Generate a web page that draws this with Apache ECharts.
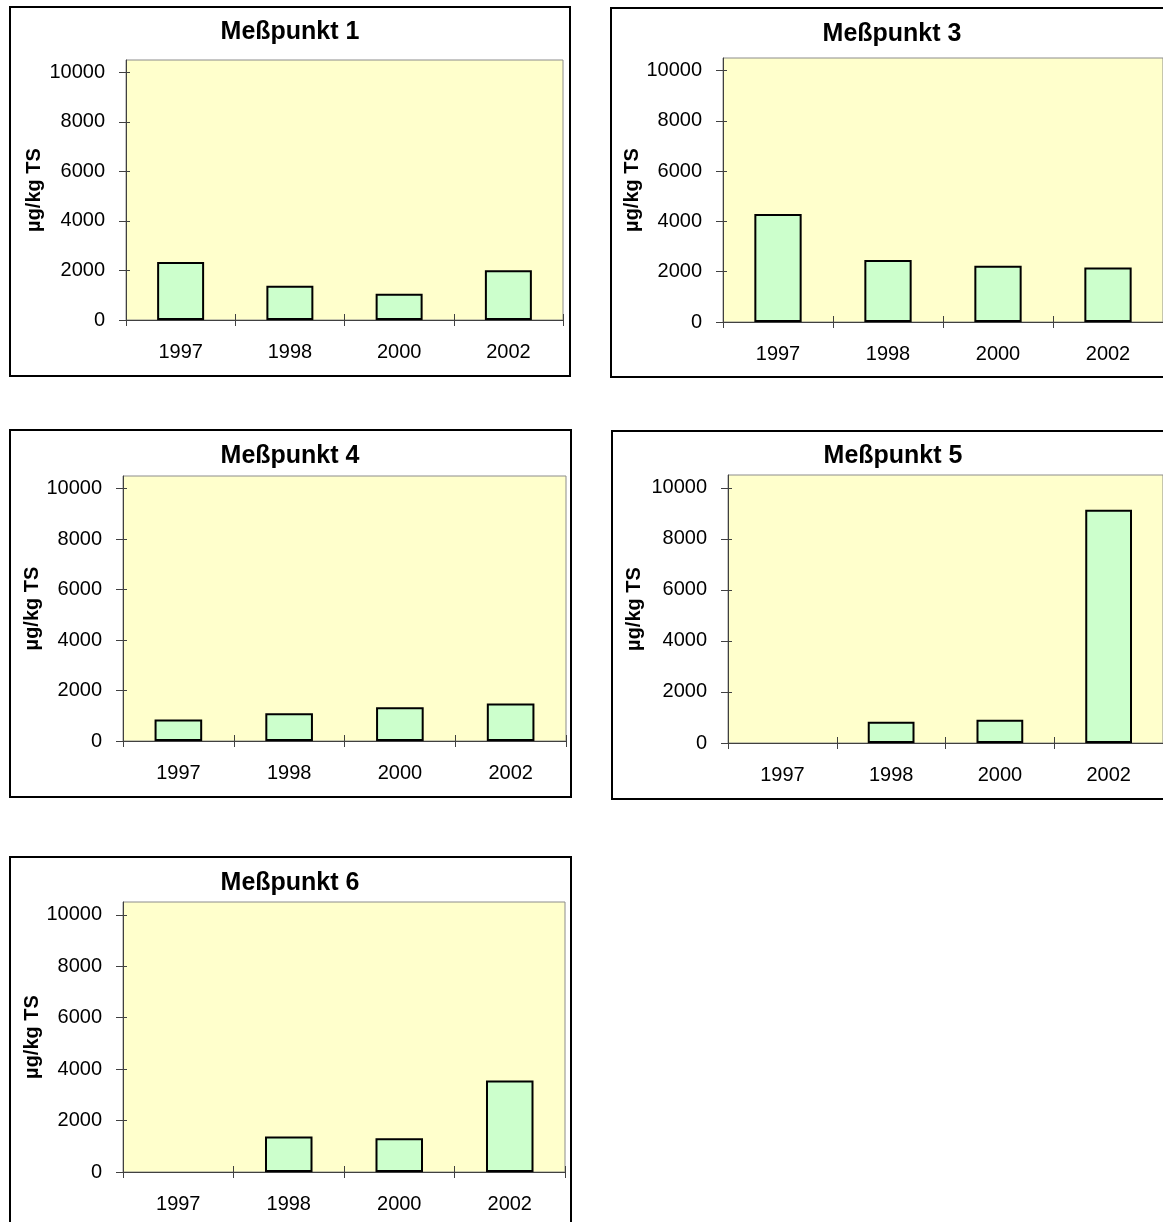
<!DOCTYPE html>
<html>
<head>
<meta charset="utf-8">
<title>Meßpunkte</title>
<script src="https://cdn.jsdelivr.net/npm/echarts@6/dist/echarts.min.js"></script>
<style>
  html, body { margin: 0; padding: 0; background: #ffffff; overflow: hidden; }
  #chart { width: 1163px; height: 1222px; }
</style>
</head>
<body>
<div id="chart"></div>
<script>
// Years sampled at every measuring point
const years = ['1997', '1998', '2000', '2002'];

// Concentrations in µg/kg TS (null = no sample that year)
const mp1 = [2340, 1380, 1060, 2010];
const mp3 = [4300, 2470, 2240, 2170];
const mp4 = [850, 1100, 1340, 1490];
const mp5 = [null, 830, 910, 9140];
const mp6 = [null, 1380, 1310, 3560];

// Value axis tick labels
const yTicks = [0, 2000, 4000, 6000, 8000, 10000];
const yMax = 10500;

const unitLabel = 'µg/kg TS';
const FONT = '"Liberation Sans", Arial, Helvetica, sans-serif';

// Panel layout: frame, plot area, title position, axis name gap
const panels = [
  { name: 'Meßpunkt 1', values: mp1, frame: [10, 7, 560, 369], grid: [126, 60, 437, 260], title: [290, 33], nameGap: 82 },
  { name: 'Meßpunkt 3', values: mp3, frame: [611, 8, 566, 369], grid: [723, 58, 444, 264], title: [892, 35], nameGap: 81 },
  { name: 'Meßpunkt 4', values: mp4, frame: [10, 430, 561, 367], grid: [123, 476, 443, 265], title: [290, 457], nameGap: 81 },
  { name: 'Meßpunkt 5', values: mp5, frame: [612, 431, 566, 368], grid: [728, 475, 440, 268], title: [893, 457], nameGap: 84 },
  { name: 'Meßpunkt 6', values: mp6, frame: [10, 857, 561, 380], grid: [123, 902, 442, 270], title: [290, 884], nameGap: 80 }
];

const AXIS_COLOR = '#404040';

const option = {
  animation: false,
  backgroundColor: '#ffffff',
  title: [],
  grid: [],
  xAxis: [],
  yAxis: [],
  series: [],
  graphic: []
};

panels.forEach(function (p, i) {
  option.title.push({
    text: p.name,
    left: p.title[0],
    top: p.title[1] - 13,
    textAlign: 'center',
    padding: 0,
    textStyle: { fontFamily: FONT, fontSize: 25, fontWeight: 'bold', color: '#000' }
  });

  option.grid.push({
    left: p.grid[0], top: p.grid[1], width: p.grid[2], height: p.grid[3],
    show: true,
    backgroundColor: '#FFFFCC',
    borderColor: '#8c8c8c',
    borderWidth: 1
  });

  // Category axis with labels and outward ticks
  option.xAxis.push({
    type: 'category', gridIndex: i, position: 'bottom', data: years,
    boundaryGap: true,
    axisLine: { show: true, lineStyle: { color: AXIS_COLOR, width: 1 } },
    axisTick: { show: true, inside: false, length: 6, lineStyle: { color: AXIS_COLOR } },
    axisLabel: { margin: 22, fontFamily: FONT, fontSize: 20, color: '#000' },
    splitLine: { show: false }
  });
  // Companion axis that draws the inward half of the crossing ticks
  option.xAxis.push({
    type: 'category', gridIndex: i, position: 'bottom', data: years,
    boundaryGap: true,
    axisLine: { show: false },
    axisTick: { show: true, inside: true, length: 6, lineStyle: { color: AXIS_COLOR } },
    axisLabel: { show: false },
    splitLine: { show: false }
  });

  option.yAxis.push({
    type: 'value', gridIndex: i, position: 'left',
    min: 0, max: yMax,
    name: unitLabel, nameLocation: 'middle', nameGap: p.nameGap,
    nameTextStyle: { fontFamily: FONT, fontSize: 20, fontWeight: 'bold', color: '#000' },
    axisLine: { show: true, lineStyle: { color: AXIS_COLOR, width: 1 } },
    axisTick: { show: true, inside: false, length: 7, customValues: yTicks, lineStyle: { color: AXIS_COLOR } },
    axisLabel: {
      margin: 21, customValues: yTicks, fontFamily: FONT, fontSize: 20, color: '#000',
      formatter: function (v) { return String(v); }
    },
    splitLine: { show: false }
  });
  option.yAxis.push({
    type: 'value', gridIndex: i, position: 'left',
    min: 0, max: yMax,
    axisLine: { show: false },
    axisTick: { show: true, inside: true, length: 4, customValues: yTicks, lineStyle: { color: AXIS_COLOR } },
    axisLabel: { show: false },
    splitLine: { show: false }
  });

  option.series.push({
    type: 'bar',
    name: p.name,
    xAxisIndex: 2 * i,
    yAxisIndex: 2 * i,
    data: p.values,
    barWidth: '43%',
    itemStyle: { color: '#CCFFCC', borderColor: '#000000', borderWidth: 2 },
    emphasis: { disabled: true }
  });

  // Chart frame around each panel
  option.graphic.push({
    type: 'rect',
    silent: true,
    z: 100,
    shape: { x: p.frame[0], y: p.frame[1], width: p.frame[2], height: p.frame[3] },
    style: { fill: null, stroke: '#000000', lineWidth: 2 }
  });
});

const chart = echarts.init(document.getElementById('chart'), null, { renderer: 'canvas' });
chart.setOption(option);
</script>
</body>
</html>
